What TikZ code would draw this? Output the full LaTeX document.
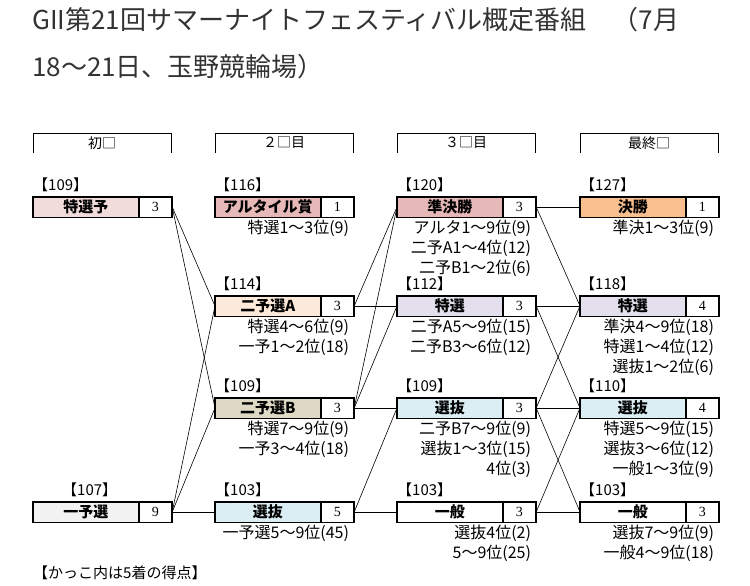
\documentclass[tikz,border=0pt]{standalone}
\usepackage{fontspec}
\setmainfont{Noto Sans CJK JP}
\newfontfamily\numfont{Liberation Serif}
\usepackage{tikz}
\definecolor{titlegray}{RGB}{51, 51, 51}
\definecolor{fillpink}{RGB}{242, 220, 219}
\definecolor{fillrose}{RGB}{230, 184, 183}
\definecolor{fillpeach}{RGB}{253, 233, 217}
\definecolor{filltan}{RGB}{221, 217, 196}
\definecolor{fillsky}{RGB}{218, 238, 243}
\definecolor{filllav}{RGB}{228, 223, 236}
\definecolor{fillorange}{RGB}{250, 191, 143}
\definecolor{fillgray}{RGB}{242, 242, 242}

% [label shift]{id}{x}{y}{fill}{label}{name}{number}
\newcommand{\race}[8][0]{
\node[namebox, fill = #5, anchor = west] (#2) at (#3,#4) {#7};
\node[numbox, anchor = west] (#2n) at (#2.east) {#8};
\draw[line width = 1.6pt] (#2.north west) rectangle (#2n.south east);
\node[tag, anchor = base west] (#2t) at ([xshift = #1pt, yshift = 6pt]#2.north west) {#6};
}
% lines under a race box
\newcommand{\subs}[2]{
\foreach \s [count = \i from 0] in {#2}
{
\node[sub, anchor = base east] (#1s\i) at ([xshift = -5pt, yshift = {-(16+20*\i)}]#1n.south east) {\s};
}
}

\begin{document}
\begin{tikzpicture}[x = 1pt, y = -1pt,
namebox/.style = {draw, line width = 0.6pt, minimum width = 105pt, minimum height = 20pt, inner sep = 0pt, font = \fontsize{15}{15}\selectfont\bfseries},
numbox/.style = {draw, fill = white, line width = 0.6pt, minimum width = 33pt, minimum height = 20pt, inner sep = 0pt, font = \numfont\fontsize{14}{14}\selectfont},
tag/.style = {inner sep = 0pt, font = \fontsize{15}{15}\selectfont},
sub/.style = {inner sep = 0pt, font = \fontsize{16}{16}\selectfont},
head/.style = {inner sep = 0pt, font = \fontsize{14}{14}\selectfont},
link/.style = {line width = 0.6pt}]
\useasboundingbox (0,0) rectangle (750,586);

\node[anchor = base west, inner sep = 0pt, text = titlegray, font = \fontsize{26}{26}\selectfont] (title1) at (32,30) {GII第21回サマーナイトフェスティバル概定番組　（7月};
\node[anchor = base west, inner sep = 0pt, text = titlegray, font = \fontsize{26}{26}\selectfont] (title2) at (32,77) {18～21日、玉野競輪場）};

% day headers
\foreach \x/\d [count = \i] in {33/初□, 215/２□目, 397/３□目, 580/最終□}
{
\draw[line width = 0.8pt] (\x,153) -- (\x,133) -- (\x+138,133) -- (\x+138,153);
\node[head] (h\i) at (\x+69,143) {\d};
}

% day 1
\race{a1}{33}{207}{fillpink}{【109】}{特選予}{3}
\race[29]{a4}{33}{512}{fillgray}{【107】}{一予選}{9}

% day 2
\race{b1}{215}{207}{fillrose}{【116】}{アルタイル賞}{1}
\subs{b1}{{特選1～3位(9)}}
\race{b2}{215}{306}{fillpeach}{【114】}{二予選A}{3}
\subs{b2}{{特選4～6位(9)}, {一予1～2位(18)}}
\race{b3}{215}{408}{filltan}{【109】}{二予選B}{3}
\subs{b3}{{特選7～9位(9)}, {一予3～4位(18)}}
\race{b4}{215}{512}{fillsky}{【103】}{選抜}{5}
\subs{b4}{{一予選5～9位(45)}}

% day 3
\race{c1}{397}{207}{fillrose}{【120】}{準決勝}{3}
\subs{c1}{{アルタ1～9位(9)}, {二予A1～4位(12)}, {二予B1～2位(6)}}
\race{c2}{397}{306}{filllav}{【112】}{特選}{3}
\subs{c2}{{二予A5～9位(15)}, {二予B3～6位(12)}}
\race{c3}{397}{408}{fillsky}{【109】}{選抜}{3}
\subs{c3}{{二予B7～9位(9)}, {選抜1～3位(15)}, {4位(3)}}
\race{c4}{397}{512}{white}{【103】}{一般}{3}
\subs{c4}{{選抜4位(2)}, {5～9位(25)}}

% final day
\race{d1}{580}{207}{fillorange}{【127】}{決勝}{1}
\subs{d1}{{準決1～3位(9)}}
\race{d2}{580}{306}{filllav}{【118】}{特選}{4}
\subs{d2}{{準決4～9位(18)}, {特選1～4位(12)}, {選抜1～2位(6)}}
\race{d3}{580}{408}{fillsky}{【110】}{選抜}{4}
\subs{d3}{{特選5～9位(15)}, {選抜3～6位(12)}, {一般1～3位(9)}}
\race{d4}{580}{512}{white}{【103】}{一般}{3}
\subs{d4}{{選抜7～9位(9)}, {一般4～9位(18)}}

% connectors
\foreach \a/\b in {a1/b2, a1/b3, a4/b2, a4/b3, a4/b4,
b2/c1, b2/c2, b3/c1, b3/c2, b3/c3, b4/c3, b4/c4,
c1/d1, c1/d2, c2/d2, c2/d3, c3/d2, c3/d3, c3/d4, c4/d3, c4/d4}
{
\draw[link] (\a n.east) -- (\b.west);
}

\node[anchor = base west, inner sep = 0pt, font = \fontsize{15}{15}\selectfont] (note) at (33,578) {【かっこ内は5着の得点】};
\end{tikzpicture}
\end{document}
